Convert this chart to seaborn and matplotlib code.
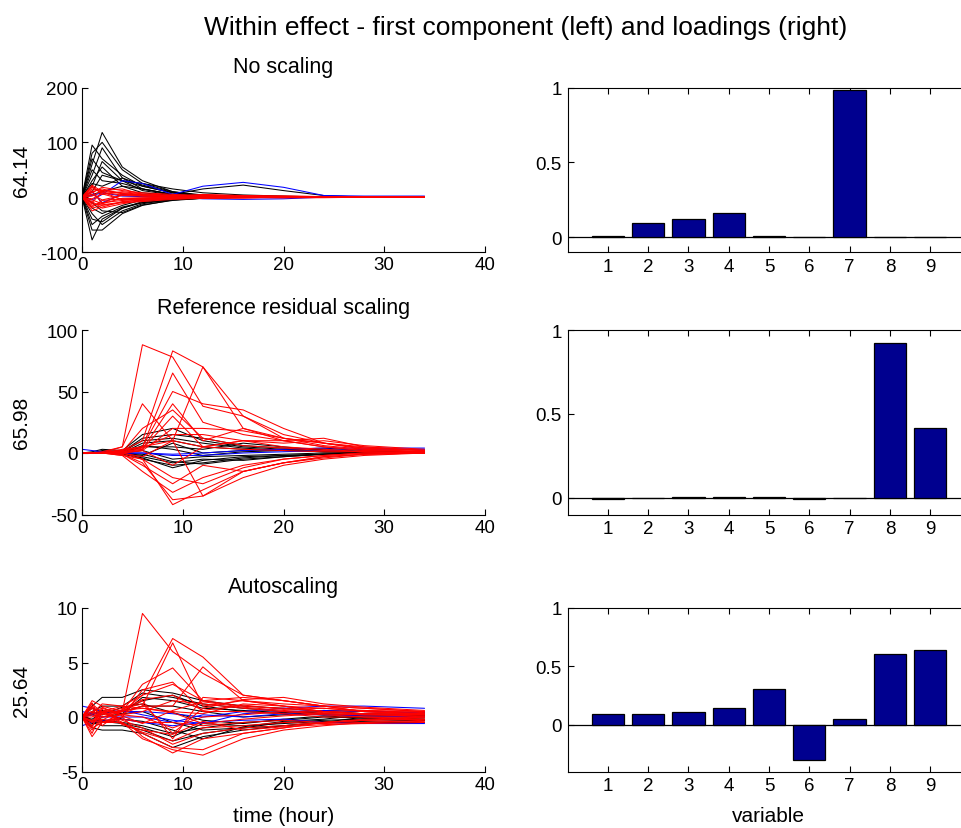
import numpy as np
import pandas as pd
import matplotlib
matplotlib.use("Agg")
import matplotlib.pyplot as plt
import seaborn as sns

# ---------------- data ----------------
time_h = [0, 1, 2, 4, 6, 9, 12, 16, 20, 24, 28, 34]

# No scaling (first component scores)
ns_black = [
    [0, 60, 118, 55, 30, 10, 2, 0, 0, 0, 0, 0],
    [0, 95, 70, 40, 20, 8, 3, 1, 0, 0, 0, 0],
    [0, 80, 100, 50, 25, 10, 4, 1, 0, 0, 0, 0],
    [0, 40, 90, 35, 15, 5, 2, 0, 0, 0, 0, 0],
    [0, -78, -40, -20, -10, -5, -2, 0, 0, 0, 0, 0],
    [0, -60, -60, -30, -15, -5, -2, 0, 0, 0, 0, 0],
    [0, 20, 65, 30, 20, 8, 3, 1, 0, 0, 0, 0],
    [0, -30, -50, -25, -12, -4, -1, 0, 0, 0, 0, 0],
    [0, 50, 30, 25, 15, 5, 2, 0, 0, 0, 0, 0],
    [0, -40, -45, -20, -8, -3, -1, 0, 0, 0, 0, 0],
    [0, 10, 40, 30, 25, 15, 8, 4, 2, 0, 0, 0],
    [0, 5, 10, 20, 15, 5, 15, 22, 12, 3, 0, 0],
    [0, -20, -30, -15, -5, -2, 0, 0, 0, 0, 0, 0],
    [0, 30, 55, 20, 8, 3, 1, 0, 0, 0, 0, 0],
    [0, -50, -35, -18, -10, -4, -1, 0, 0, 0, 0, 0],
    [0, 70, 45, 30, 12, 4, 1, 0, 0, 0, 0, 0],
    [0, -10, -25, -28, -14, -6, -2, 0, 0, 0, 0, 0],
    [0, 25, 20, 35, 22, 9, 3, 1, 0, 0, 0, 0],
]
ns_blue = [
    [0, -5, 5, 30, 25, 5, 20, 27, 18, 3, 2, 2],
    [0, 10, -10, 5, 3, 0, -3, -4, -3, 0, 0, 0],
    [0, 3, 8, 2, 1, 0, 0, 0, 0, 0, 0, 0],
]
ns_red = [
    [0, 15, 12, 8, 5, 3, 2, 1, 0, 0, 0, 0],
    [0, -15, -10, -6, -4, -2, -1, 0, 0, 0, 0, 0],
    [0, 20, 5, 10, 6, 3, 1, 0, 0, 0, 0, 0],
    [0, -25, -18, -8, -5, -2, -1, 0, 0, 0, 0, 0],
    [0, 8, 18, 12, 8, 5, 3, 1, 0, 0, 0, 0],
    [0, -8, -20, -12, -6, -3, -2, -1, 0, 0, 0, 0],
    [0, 5, -5, 3, 2, 1, 5, 3, 2, 1, 1, 1],
    [0, -3, 6, -4, -3, -2, -1, 0, -1, -1, 0, 0],
    [0, 12, -12, 6, 4, 2, 1, 2, 1, 1, 1, 1],
    [0, -10, 10, -5, -3, -1, 0, -1, 0, 0, 0, 0],
    [0, 18, 8, 4, 3, 2, 4, 2, 2, 1, 1, 1],
    [0, -18, -6, -3, -2, -1, -2, -1, -1, 0, 0, 0],
    [0, 10, 15, 6, 4, 3, 2, 1, 1, 0, 0, 0],
    [0, -12, -14, -9, -5, -2, -1, -1, 0, 0, 0, 0],
    [0, 22, 10, 7, 2, 1, 0, 1, 0, 0, 0, 0],
    [0, -5, -12, -2, -1, 0, 1, 0, 0, 0, 0, 0],
    [0, 2, 12, 15, 5, 2, 3, 2, 1, 1, 1, 0],
    [0, -20, -15, -10, -8, -4, -2, -1, 0, 0, 0, 0],
]

# Reference residual scaling
rr_black = [
    [0, 1, 3, 2, 15, 20, 10, 5, 3, 2, 1, 1],
    [0, 0, 2, 1, 12, 15, 12, 6, 4, 2, 1, 0],
    [0, 0, 1, 0, -5, -10, -8, -4, -2, -1, 0, 0],
    [0, 0, 0, 0, 8, 10, 5, 3, 2, 1, 0, 0],
    [0, 0, 0, 0, -3, -8, -5, -6, -3, -1, 0, 0],
    [0, 0, 0, 0, 5, 5, 3, 8, 5, 2, 1, 0],
    [0, 0, 0, 0, 2, -5, -3, -2, -1, 0, 0, 0],
    [0, 0, 0, 0, -2, 8, 0, 2, 3, 4, 2, 1],
    [0, 0, 1, 1, 10, 12, 8, 4, 2, 1, 1, 0],
    [0, 0, 0, -1, -4, -12, -6, -3, -2, -1, 0, 0],
    [0, 0, 0, 0, 6, 3, -2, 1, 2, 3, 1, 0],
    [0, 0, 0, 0, -1, -7, -9, -5, -3, -1, 0, 0],
]
rr_blue = [
    [3, 2, 1, 0, 0, -2, -2, 0, 1, 2, 3, 3],
    [0, 0, 0, 0, 0, -1, 0, 2, 3, 4, 4, 4],
]
rr_red = [
    [0, 0, 1, 5, 88, 78, 38, 30, 15, 8, 4, 2],
    [0, 0, 0, 2, 10, 83, 70, 30, 12, 6, 3, 1],
    [0, 0, 0, 3, 5, 10, 70, 20, 10, 5, 2, 1],
    [0, 0, 0, 5, 40, 10, 5, 3, 2, 1, 1, 0],
    [0, 0, 0, 2, 5, 65, 25, 15, 10, 5, 2, 1],
    [0, 0, 0, 2, 5, 50, 40, 35, 20, 8, 3, 1],
    [0, 0, 0, 1, 3, 40, 10, 20, 12, 8, 4, 2],
    [0, 0, 0, 1, 3, 30, 5, 10, 10, 12, 5, 2],
    [0, 0, 0, -2, -5, -42, -30, -15, -8, -3, -1, 0],
    [0, 0, 0, -1, -8, -38, -35, -20, -10, -5, -2, 0],
    [0, 0, 0, -1, -10, -25, -10, -15, -8, -4, -1, 0],
    [0, 0, 0, -2, -15, -32, -20, -10, -5, -2, 0, 0],
    [0, 0, 0, 0, 2, 20, 20, 18, 12, 8, 5, 2],
    [0, 0, 0, 0, -3, 10, -35, -15, -8, -3, -1, 0],
    [0, 0, 0, 1, 4, 15, 15, 10, 8, 10, 6, 3],
    [0, 0, 0, 0, 2, -10, 5, 10, 5, 3, 1, 0],
    [0, 0, 0, 0, -5, -20, -25, -12, -5, -2, 0, 0],
    [0, 0, 0, 1, 20, 35, 12, 6, 4, 2, 1, 0],
]

# Autoscaling
as_black = [
    [0, 1, 1.8, 1.8, 2.5, 2.2, 1.5, 1, 0.8, 0.5, 0.3, 0.2],
    [0, -1, -1.2, -1.2, -1.5, -2.8, -1.8, -1.2, -0.8, -0.5, -0.5, -0.5],
    [0, 0.5, 1, 1, 2.2, 1.8, 1.2, 0.8, 0.5, 0.3, 0.2, 0.1],
    [0, -0.5, -0.8, -0.8, -1.2, -2.2, -1.5, -1, -0.5, -0.3, -0.2, -0.3],
    [0, 0.3, 0.5, 0.5, 1.5, 2, 1, 0.5, 0.3, 0.2, 0.1, 0.1],
    [0, -0.3, -0.3, -0.5, -0.8, -1.5, -1, -0.5, -0.3, 0, -0.1, -0.2],
    [0, 0.8, 0.5, 0.5, 1, 1, 0.5, 0, 0.2, 0.5, 0.3, 0.2],
    [0, -0.8, 0, 0.3, 0.5, -0.5, -1.2, -1, -0.8, -0.5, 0, 0],
    [0, 0.2, 0.6, 0.3, 1.8, 1.5, 0.8, 0.6, 0.4, 0.6, 0.5, 0.4],
    [0, -0.6, -0.4, -0.6, -1.0, -1.8, -0.6, -0.8, -0.6, -0.4, -0.4, -0.3],
    [0, 0.4, 0.2, 0.9, 1.2, 0.4, -0.3, -0.6, -0.2, 0.1, -0.1, -0.2],
    [0, -0.2, 0.4, -0.2, -0.4, -1.2, -2.0, -0.9, -0.4, -0.2, 0.2, 0.3],
]
as_blue = [
    [1, 0.8, 0.5, 0.5, 0.5, 0.3, 0, 0.5, 0.8, 1, 1, 0.8],
    [-0.8, -0.5, -0.3, -0.2, -0.5, -0.8, -0.5, -0.3, -0.2, -0.5, -0.6, -0.6],
    [0, 0.2, 0, 0, 0, -0.5, 0.2, 0, 0.3, 0.2, 0.1, 0],
    [0.5, 0.3, 0.4, 0.6, 0.2, -0.3, -0.6, 0.3, 0.5, 0.6, 0.5, 0.4],
]
as_red = [
    [0, 0.5, 0.2, 0.5, 9.5, 6, 4, 2, 1.5, 1, 0.5, 0.3],
    [0, -0.5, 0.5, 1, 2, 7.2, 5.5, 2, 1.5, 1, 0.8, 0.5],
    [0, 1, 0, 0.5, 1, 6.8, 1, 1.5, 1, 0.8, 0.5, 0.2],
    [0, 0, 0.5, 0.5, 3, 4.5, 1.5, 1, 0.8, 0.5, 0.3, 0.2],
    [0, 0.5, -0.5, 0.3, 1, 1, 4.6, 1.5, 1, 0.5, 0.3, 0],
    [0, -1.8, -0.5, 0, 2.5, 3.2, 0.5, 0.5, 0.3, 0, 0, 0],
    [0, 1.3, -0.5, 0, -1.8, -3.3, -2, -1.5, -1, -0.5, -0.3, -0.2],
    [0, -1.5, 0.5, -0.5, -2, -3, -3.5, -2, -1.2, -0.8, -0.5, -0.3],
    [0, 0.8, 0.3, 0.5, 1.5, -2, 1.8, 1.5, 1.2, 1, 0.8, 0.5],
    [0, -0.8, 0.5, -0.3, -1, -2.5, -1.5, -1, -0.8, -0.5, -0.3, 0],
    [0, 1.5, 1, 0.5, 2, 3, 1.5, 1.8, 1.5, 1, 0.5, 0.3],
    [0, -1, -0.5, -0.5, -1.5, -2.8, -3, -1.5, -1, -0.5, -0.2, 0],
    [0, 0.5, 0.8, 0.2, 0.5, 1.5, 1.2, 0.8, 0.5, 0.3, 0.2, 0.2],
    [0, -0.3, -0.5, -0.2, -0.5, -0.5, -0.8, -0.5, -0.3, -0.5, -0.3, -0.2],
    [0, 0.3, 1.2, 1, 0.8, 0.5, 0.3, 1.2, 1, 0.5, 0.6, 0.4],
    [0, -0.5, 0, 0.2, 0, -1, 0, 0.2, 0.5, 0.2, 0, -0.2],
    [0, 1.2, 0.4, 0.8, 1.2, -1.5, 0.8, 1.6, 1.8, 1.2, 0.9, 0.6],
    [0, -1.2, -0.2, -0.6, -1.4, -2.2, -1.0, -0.8, -0.5, -0.6, -0.5, -0.4],
    [0, 0.9, -0.8, 0.6, 0.8, 0.4, -0.6, -0.2, 0.1, 0.3, 0.2, 0.1],
    [0, -0.9, 0.9, 0.1, -0.6, 0.6, 1.4, 0.9, 0.6, 0.4, 0.3, 0.3],
    [0, 0.2, -0.3, 0.7, 1.6, 2.0, 0.6, 1.1, 0.7, 0.8, 0.6, 0.5],
    [0, -0.4, 0.7, -0.7, -1.2, -1.6, -0.4, -1.2, -0.9, -0.7, -0.6, -0.5],
]

variables = [1, 2, 3, 4, 5, 6, 7, 8, 9]
load_ns = [0.005, 0.094, 0.121, 0.16, 0.005, 0.0, 0.98, 0.0, 0.0]
load_rr = [-0.008, 0.0, 0.005, 0.005, 0.005, -0.008, 0.0, 0.923, 0.414]
load_as = [0.094, 0.094, 0.106, 0.143, 0.31, -0.30, 0.05, 0.606, 0.643]

panel_titles = ["No scaling", "Reference residual scaling", "Autoscaling"]
ylabels = ["64.14", "65.98", "25.64"]
suptitle = "Within effect - first component (left) and loadings (right)"

# ---------------- style ----------------
sns.set_style("white")
plt.rcParams["font.family"] = ["Liberation Sans", "DejaVu Sans"]
plt.rcParams["axes.unicode_minus"] = False
plt.rcParams["text.color"] = "black"
plt.rcParams["axes.labelcolor"] = "black"

W, H = 962, 829
fig = plt.figure(figsize=(W / 100, H / 100), dpi=100)


def px_axes(left, top, right, bottom):
    return fig.add_axes([left / W, 1 - bottom / H, (right - left) / W, (bottom - top) / H])


def long_df(lines):
    rows = []
    for i, vals in enumerate(lines):
        for t, v in zip(time_h, vals):
            rows.append({"time": t, "value": v, "line": i})
    return pd.DataFrame(rows)


rows_px = [(88.5, 253), (331, 515.5), (609, 772.5)]
left_series = [(ns_black, ns_blue, ns_red), (rr_black, rr_blue, rr_red), (as_black, as_blue, as_red)]
ylims = [(-100, 200), (-50, 100), (-5, 10)]
yticks = [[-100, 0, 100, 200], [-50, 0, 50, 100], [-5, 0, 5, 10]]
loads = [load_ns, load_rr, load_as]
bar_ylims = [(-0.1, 1), (-0.1, 1), (-0.4, 1)]
title_y = [68, 309, 588]
navy = "#00008F"
TICK_FS = 13.5
LAB_FS = 15

for i in range(3):
    top, bottom = rows_px[i]
    # ---- left: score trajectories
    ax = px_axes(82, top, 485, bottom)
    blk, blu, red = left_series[i]
    for lines, col in [(blk, "black"), (blu, "blue"), (red, "red")]:
        sns.lineplot(data=long_df(lines), x="time", y="value", units="line",
                     estimator=None, color=col, lw=0.75, sort=False,
                     legend=False, ax=ax)
    ax.set_xlim(0, 40)
    ax.set_ylim(*ylims[i])
    ax.set_xticks([0, 10, 20, 30, 40])
    ax.set_yticks(yticks[i])
    ax.set_xlabel("")
    ax.set_ylabel("")
    for s in ["top", "right"]:
        ax.spines[s].set_visible(False)
    for s in ["left", "bottom"]:
        ax.spines[s].set_color("black")
        ax.spines[s].set_linewidth(0.8)
    ax.tick_params(direction="in", length=4, width=0.8, labelsize=TICK_FS,
                   left=True, bottom=True, pad=3, colors="black")
    fig.text(283.5 / W, 1 - title_y[i] / H, panel_titles[i], ha="center",
             va="center", fontsize=15.5)
    fig.text(22 / W, 1 - ((top + bottom) / 2) / H, ylabels[i], rotation=90,
             ha="center", va="center", fontsize=LAB_FS)

    # ---- right: loadings
    bx = px_axes(567.5, top, 970.5, bottom)
    sns.barplot(x=variables, y=loads[i], native_scale=True, color=navy,
                saturation=1, width=0.8, edgecolor="black", linewidth=0.9,
                errorbar=None, ax=bx)
    bx.axhline(0, color="black", lw=0.9, zorder=0.5)
    bx.set_xlim(0, 10)
    bx.set_ylim(*bar_ylims[i])
    bx.set_xticks(variables)
    bx.set_xticklabels([str(v) for v in variables])
    bx.set_yticks([0, 0.5, 1])
    bx.set_yticklabels(["0", "0.5", "1"])
    bx.set_xlabel("")
    bx.set_ylabel("")
    for s in ["top", "left", "bottom", "right"]:
        bx.spines[s].set_color("black")
        bx.spines[s].set_linewidth(0.8)
    bx.tick_params(direction="in", length=4, width=0.8, labelsize=TICK_FS,
                   left=True, bottom=True, top=True, pad=4, colors="black")

fig.text(283.5 / W, 1 - 817 / H, "time (hour)", ha="center", va="center", fontsize=LAB_FS)
fig.text(768 / W, 1 - 817 / H, "variable", ha="center", va="center", fontsize=LAB_FS)
fig.text(526 / W, 1 - 28 / H, suptitle, ha="center", va="center", fontsize=19)

fig.savefig("out.png", dpi=100, facecolor="white")
